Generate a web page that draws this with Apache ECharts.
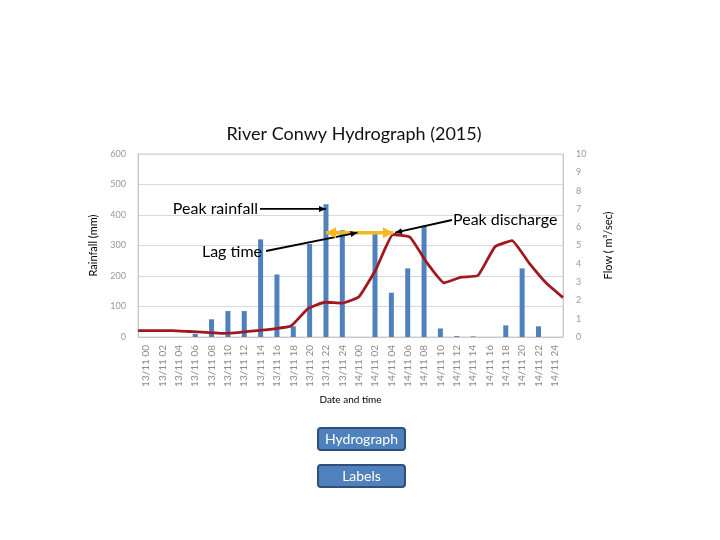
<!DOCTYPE html>
<html>
<head>
<meta charset="utf-8">
<script src="https://cdn.jsdelivr.net/npm/echarts@6/dist/echarts.min.js"></script>
<style>html,body{margin:0;padding:0;background:#fff;}#c{width:720px;height:540px;}</style>
</head>
<body>
<div id="c"></div>
<script>
var categories = ['13/11 00','13/11 02','13/11 04','13/11 06','13/11 08','13/11 10','13/11 12','13/11 14','13/11 16','13/11 18','13/11 20','13/11 22','13/11 24',
                  '14/11 00','14/11 02','14/11 04','14/11 06','14/11 08','14/11 10','14/11 12','14/11 14','14/11 16','14/11 18','14/11 20','14/11 22','14/11 24'];
var rainfall = [0,0,0,10,58,85,85,320,205,35,305,435,350,0,345,145,225,365,28,3,2,0,38,225,35,0];
var flow = [0.35,0.35,0.35,0.3,0.25,0.2,0.25,0.35,0.45,0.6,1.55,1.9,1.85,2.2,3.7,5.6,5.45,4.05,2.96,3.27,3.36,4.93,5.27,4.05,2.96,2.15];
var rainTicks = [0,100,200,300,400,500,600];
var flowTicks = [0,1,2,3,4,5,6,7,8,9,10];

var FONT = 'Lato, "Liberation Sans", sans-serif';
var chart = echarts.init(document.getElementById('c'));
var option = {
  animation: false,
  backgroundColor: '#fff',
  title: {
    text: 'River Conwy Hydrograph (2015)',
    left: 349, top: 120, textAlign: 'center',
    textStyle: {fontFamily: FONT, fontSize: 18, fontWeight: 'normal', color: '#111'}
  },
  grid: {left: 138, right: 157, top: 154, bottom: 203, show: true, borderColor: '#d0d0d0', borderWidth: 1},
  xAxis: [{
    type: 'category', data: categories, boundaryGap: true,
    axisLine: {show: true, lineStyle: {color: '#c8c8c8'}},
    axisTick: {show: false},
    axisLabel: {rotate: 90, fontFamily: FONT, fontSize: 10, color: '#8c8c8c', margin: 8, interval: 0},
    name: 'Date and time', nameLocation: 'middle', nameGap: 58,
    nameTextStyle: {fontFamily: FONT, fontSize: 10, color: '#000'}
  }, {
    type: 'category', data: categories, boundaryGap: false, show: false
  }],
  yAxis: [{
    type: 'value', min: rainTicks[0], max: rainTicks[rainTicks.length-1], interval: 100,
    axisLine: {show: true, lineStyle: {color: '#c8c8c8'}},
    axisTick: {show: false},
    axisLabel: {fontFamily: FONT, fontSize: 9, color: '#999', margin: 12},
    splitLine: {show: true, lineStyle: {color: '#d9d9d9'}},
    name: 'Rainfall (mm)', nameLocation: 'middle', nameGap: 38, nameRotate: 90,
    nameTextStyle: {fontFamily: FONT, fontSize: 11, color: '#000'}
  }, {
    type: 'value', min: flowTicks[0], max: flowTicks[flowTicks.length-1], interval: 1, position: 'right',
    axisLine: {show: true, lineStyle: {color: '#c8c8c8'}},
    axisTick: {show: false},
    axisLabel: {fontFamily: FONT, fontSize: 9, color: '#999', margin: 13},
    splitLine: {show: false},
    name: 'Flow ( m\u00B3/sec)', nameLocation: 'middle', nameGap: 40, nameRotate: 90,
    nameTextStyle: {fontFamily: FONT, fontSize: 11, color: '#000'}
  }],
  series: [{
    name: 'Rainfall', type: 'bar', data: rainfall, xAxisIndex: 0, yAxisIndex: 0,
    barWidth: 5, itemStyle: {color: '#4F81BD'}
  }, {
    name: 'Flow', type: 'line', data: flow, xAxisIndex: 1, yAxisIndex: 1,
    symbol: 'none', smooth: 0.12, lineStyle: {color: '#A0191E', width: 2.8}, z: 3
  }]
};
chart.setOption(option);

function px(xi, yi, x, y){ return chart.convertToPixel({xAxisIndex: xi, yAxisIndex: yi}, [x, y]); }
function head(tip, from, len, wid, color){
  var dx = tip[0]-from[0], dy = tip[1]-from[1], d = Math.sqrt(dx*dx+dy*dy);
  var ux = dx/d, uy = dy/d, bx = tip[0]-ux*len, by = tip[1]-uy*len;
  return {type: 'polygon', z: 20, shape: {points: [tip, [bx-uy*wid/2, by+ux*wid/2], [bx+uy*wid/2, by-ux*wid/2]]}, style: {fill: color}};
}
function arrow(a, b, color, w, len, wid, both){
  var els = [{type: 'line', z: 19, shape: {x1: a[0], y1: a[1], x2: b[0], y2: b[1]}, style: {stroke: color, lineWidth: w}}];
  els.push(head(b, a, len, wid, color));
  if (both) els.push(head(a, b, len, wid, color));
  return els;
}
function txt(x, y, s, align){
  return {type: 'text', z: 21, x: x, y: y, style: {text: s, fontFamily: FONT, fontSize: 16, fill: '#000', align: align || 'left', verticalAlign: 'middle'}};
}

var rainTop = px(0, 0, 11, 420);            // peak rainfall bar (13/11 22)
var disPeak = px(1, 1, 15, 5.7);            // peak discharge (14/11 04)
var yArrowY = disPeak[1];
var yStart = [rainTop[0], yArrowY];
var yEnd = [disPeak[0], yArrowY];
var mid = [(yStart[0]+yEnd[0])/2 - 2, yArrowY];

var els = [];
els = els.concat(arrow(yStart, yEnd, '#F5B820', 3.5, 10, 11, true));
els = els.concat(arrow([260, rainTop[1]], [rainTop[0], rainTop[1]], '#000', 1.8, 7, 6, false));
els = els.concat(arrow([266, 251], mid, '#000', 1.8, 7, 6, false));
els = els.concat(arrow([452, 220], [yEnd[0]+2, yArrowY], '#000', 1.8, 7, 6, false));
els.push(txt(258, rainTop[1], 'Peak rainfall', 'right'));
els.push(txt(262, 252, 'Lag time', 'right'));
els.push(txt(453, 220, 'Peak discharge', 'left'));

function button(y, label){
  return {type: 'group', x: 318, y: y, children: [
    {type: 'rect', shape: {x: 0, y: 0, width: 87, height: 22, r: 3}, style: {fill: '#4F81BD', stroke: '#2F4F7F', lineWidth: 2}},
    {type: 'text', style: {x: 43.5, y: 11, text: label, fontFamily: FONT, fontSize: 14, fill: '#fff', align: 'center', verticalAlign: 'middle'}}
  ]};
}
els.push(button(428, 'Hydrograph'));
els.push(button(465, 'Labels'));

chart.setOption({graphic: els});
</script>
</body>
</html>
